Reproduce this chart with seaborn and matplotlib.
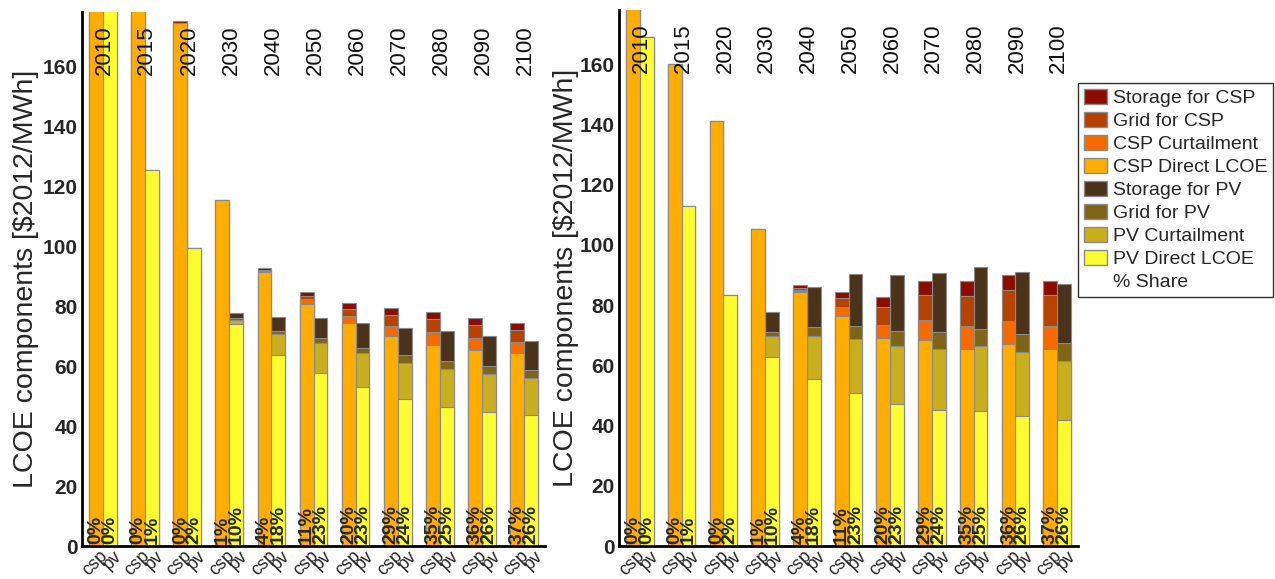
import numpy as np
import pandas as pd
import matplotlib
matplotlib.use("Agg")
import matplotlib.pyplot as plt
from matplotlib.patches import Patch
import seaborn as sns

# Years and shares (same in both panels)
years = ["2010", "2015", "2020", "2030", "2040", "2050", "2060", "2070", "2080", "2090", "2100"]
csp_share = [0, 0, 0, 1, 4, 11, 20, 29, 35, 36, 37]
pv_share = [0, 1, 2, 10, 18, 23, 23, 24, 25, 26, 26]

# Left panel, CSP components [$2012/MWh]
left_csp_direct = [240, 200, 174.5, 115.3, 91.3, 80.7, 74.3, 70.0, 67.0, 65.3, 64.3]
left_csp_curt = [0, 0, 0, 0, 0.3, 1.6, 2.4, 3.3, 4.3, 4.0, 3.7]
left_csp_grid = [0, 0, 0, 0, 0.4, 1.0, 2.3, 3.7, 4.4, 4.4, 4.0]
left_csp_storage = [0, 0, 0.5, 0, 0.7, 1.4, 2.0, 2.3, 2.3, 2.3, 2.3]

# Left panel, PV components
left_pv_direct = [210, 125.2, 99.3, 74.0, 63.7, 57.7, 53.0, 49.0, 46.3, 44.7, 43.7]
left_pv_curt = [0, 0, 0, 1.5, 7.0, 10.0, 11.3, 12.0, 12.7, 12.6, 12.3]
left_pv_grid = [0, 0, 0, 0.5, 1.0, 1.6, 1.7, 2.7, 2.7, 2.7, 2.7]
left_pv_storage = [0, 0, 0, 1.7, 4.6, 6.7, 8.3, 9.0, 10.0, 10.0, 9.6]

# Right panel, CSP components
right_csp_direct = [220, 160, 141, 105.3, 84.3, 76.3, 69.0, 68.3, 65.3, 67.0, 65.3]
right_csp_curt = [0, 0, 0, 0, 0.7, 3.0, 4.3, 6.7, 7.7, 7.7, 7.7]
right_csp_grid = [0, 0, 0, 0, 0.7, 3.0, 6.0, 8.3, 10.0, 10.3, 10.3]
right_csp_storage = [0, 0, 0, 0, 1.0, 2.0, 3.4, 4.7, 5.0, 5.0, 4.7]

# Right panel, PV components
right_pv_direct = [169, 113, 83.2, 62.7, 55.3, 50.7, 47.0, 45.0, 44.7, 43.3, 41.7]
right_pv_curt = [0, 0, 0, 7.0, 14.4, 18.0, 19.3, 20.3, 21.6, 21.0, 19.6]
right_pv_grid = [0, 0, 0, 1.3, 3.0, 4.3, 5.0, 5.7, 5.7, 6.0, 6.0]
right_pv_storage = [0, 0, 0, 6.7, 13.3, 17.3, 18.7, 19.7, 20.7, 20.7, 19.7]

csp_colors = ["#ffad00", "#f56b00", "#b84200", "#8c0c00"]   # direct, curt, grid, storage
pv_colors = ["#fcfc30", "#c9ae1d", "#7f6518", "#4b321b"]

sns.set_style("white")
plt.rcParams["font.family"] = ["Liberation Sans", "DejaVu Sans"]

fig = plt.figure(figsize=(12.75, 5.79), dpi=100)
ax_l = fig.add_axes([82 / 1275, 33 / 579, 463 / 1275, 534 / 579])
ax_r = fig.add_axes([619 / 1275, 33 / 579, 459 / 1275, 536 / 579])


def draw_panel(ax, csp_layers, pv_layers, label_x):
    csp_cum = np.cumsum(np.array(csp_layers), axis=0)
    pv_cum = np.cumsum(np.array(pv_layers), axis=0)
    # draw the tallest stack first, then cover it with the lower layers
    for k in range(3, -1, -1):
        df = pd.DataFrame({
            "year": years * 2,
            "tech": ["csp"] * len(years) + ["pv"] * len(years),
            "value": list(csp_cum[k]) + list(pv_cum[k]),
        })
        sns.barplot(data=df, x="year", y="value", hue="tech", order=years,
                    hue_order=["csp", "pv"],
                    palette={"csp": csp_colors[k], "pv": pv_colors[k]},
                    width=0.66, saturation=1, errorbar=None, legend=False,
                    edgecolor="#8a8a8a", linewidth=0.8, ax=ax)

    for i, yr in enumerate(years):
        ax.text(i + 0.04, 173.5, yr, rotation=90, ha="center", va="top", fontsize=16,
                color="#111111")
        ax.text(i - 0.165, 0.8, f"{csp_share[i]}%", rotation=90, ha="center",
                va="bottom", fontsize=14, fontweight="bold")
        ax.text(i + 0.165, 0.8, f"{pv_share[i]}%", rotation=90, ha="center",
                va="bottom", fontsize=14, fontweight="bold")

    ax.set_xlim(-0.5, 10.5)
    ax.set_ylim(0, 178)
    pos = np.arange(len(years))
    ax.set_xticks(np.concatenate([pos - 0.09, pos + 0.24]))
    ax.set_xticklabels(["csp"] * len(years) + ["pv"] * len(years),
                       rotation=45, ha="right", rotation_mode="anchor", fontsize=13)
    ax.set_yticks(range(0, 161, 20))
    ax.set_yticklabels([str(v) for v in range(0, 161, 20)], fontsize=15, fontweight="bold")
    ax.tick_params(axis="y", length=0, pad=3)
    ax.tick_params(axis="x", length=0, pad=1)
    ax.set_xlabel("")
    ax.set_ylabel(r"LCOE components [\$2012/MWh]", fontsize=20.5)
    ax.yaxis.set_label_coords(label_x, 0.5)
    for s in ["top", "right"]:
        ax.spines[s].set_visible(False)
    for s in ["left", "bottom"]:
        ax.spines[s].set_color("black")
        ax.spines[s].set_linewidth(2)


draw_panel(ax_l,
           [left_csp_direct, left_csp_curt, left_csp_grid, left_csp_storage],
           [left_pv_direct, left_pv_curt, left_pv_grid, left_pv_storage], -0.092)
draw_panel(ax_r,
           [right_csp_direct, right_csp_curt, right_csp_grid, right_csp_storage],
           [right_pv_direct, right_pv_curt, right_pv_grid, right_pv_storage], -0.088)

legend_labels = ["Storage for CSP", "Grid for CSP", "CSP Curtailment", "CSP Direct LCOE",
                 "Storage for PV", "Grid for PV", "PV Curtailment", "PV Direct LCOE"]
legend_colors = csp_colors[::-1] + pv_colors[::-1]
handles = [Patch(facecolor=c, edgecolor="#8a8a8a", label=l)
           for c, l in zip(legend_colors, legend_labels)]
handles.append(Patch(facecolor="none", edgecolor="none", label="% Share"))
fig.legend(handles=handles, loc="upper left", bbox_to_anchor=(1078 / 1275, 1 - 83 / 579),
           fontsize=14, frameon=True, fancybox=False, edgecolor="black",
           handlelength=1.2, handleheight=0.8, handletextpad=0.3,
           labelspacing=0.25, borderpad=0.3, borderaxespad=0)

fig.savefig("out.png", dpi=100)
